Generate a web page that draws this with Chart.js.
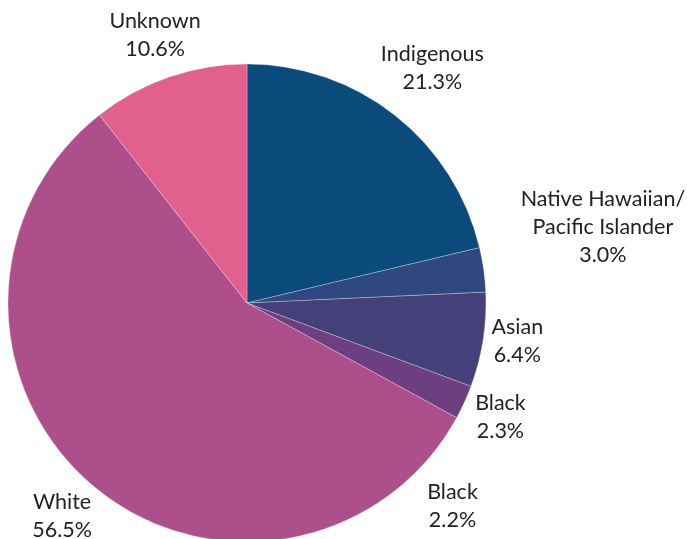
<!DOCTYPE html>
<html>
<head>
<meta charset="utf-8">
<script src="https://cdn.jsdelivr.net/npm/chart.js@4"></script>
<style>
  html, body { margin: 0; padding: 0; background: #fff; }
  canvas { display: block; }
</style>
</head>
<body>
<canvas id="myChart" width="687" height="539"></canvas>
<script>
const ctx = document.querySelector("#myChart").getContext("2d");

const labels = ["Indigenous", "Native Hawaiian/\nPacific Islander", "Asian", "Black", "Black", "White", "Unknown"];
const shares = [21.3, 3.0, 6.4, 2.3, 2.2, 56.5, 10.6];
// the second "Black" label has no visible slice in the picture
const hiddenSlices = [4];
const colors = ["#0a4b7c", "#2f4880", "#45407a", "#6e3f80", "#6e3f80", "#ad4f8a", "#e1608e"];

// label placement: [extra distance beyond radius, angle nudge in degrees]
const labelPlace = [
  [60, 0],
  [125, -4.1],
  [34, -0.8],
  [39, -0.3],
  [50, 16],
  [43, 0.7],
  [44, 0.1],
];

const outLabels = {
  id: "outLabels",
  afterDatasetsDraw(chart) {
    const meta = chart.getDatasetMeta(0);
    const c = chart.ctx;
    c.save();
    c.font = "21.5px Lato";
    c.fillStyle = "#222";
    c.textAlign = "center";
    c.textBaseline = "middle";
    const lineH = 28;
    meta.data.forEach((arc, i) => {
      const r = meta.controller.outerRadius;
      const mid = (arc.startAngle + arc.endAngle) / 2 + labelPlace[i][1] * Math.PI / 180;
      const d = r + labelPlace[i][0];
      const x = arc.x + Math.cos(mid) * d;
      const y = arc.y + Math.sin(mid) * d;
      const lines = labels[i].split("\n").concat(shares[i].toFixed(1) + "%");
      const top = y - (lines.length - 1) * lineH / 2;
      lines.forEach((t, k) => c.fillText(t, x, top + k * lineH));
    });
    c.restore();
  },
};

const data = {
  labels,
  datasets: [
    {
      data: shares,
      backgroundColor: colors,
      borderColor: "rgba(255,255,255,0.45)",
      borderWidth: 0.6,
      hoverOffset: 0,
    },
  ],
};

const config = {
  type: "pie",
  data: data,
  plugins: [outLabels],
  options: {
    responsive: false,
    animation: false,
    radius: 239,
    layout: {
      padding: { left: 8, right: 201, top: 67, bottom: 0 },
    },
    plugins: {
      legend: { display: false },
      tooltip: { enabled: false },
    },
  },
};

const myChart = new Chart(ctx, config);
hiddenSlices.forEach((i) => myChart.toggleDataVisibility(i));
myChart.update();
</script>
</body>
</html>
